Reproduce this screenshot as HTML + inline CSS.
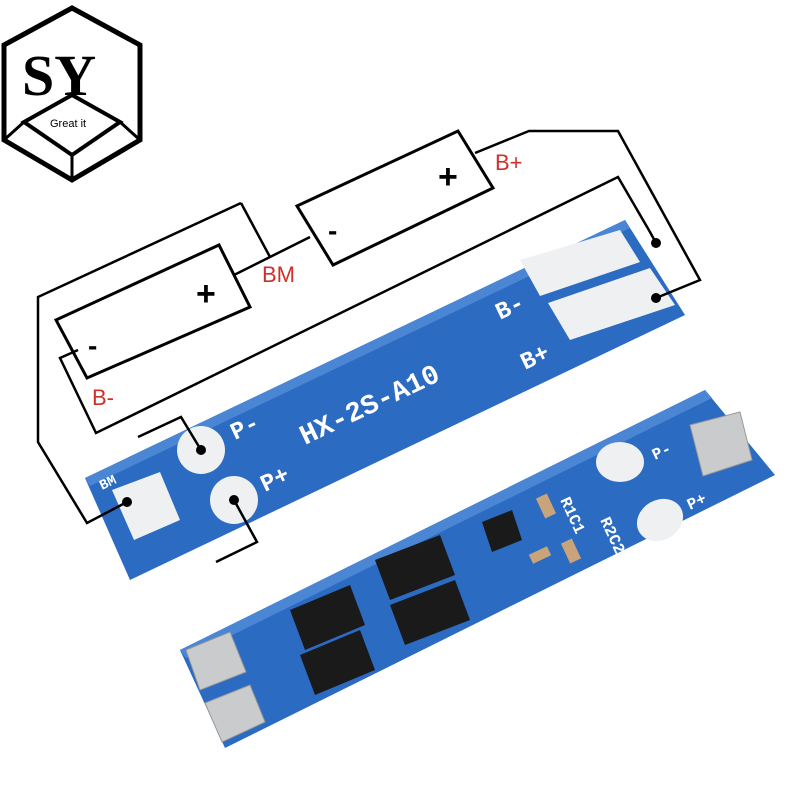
<!DOCTYPE html>
<html><head><meta charset="utf-8"><style>html,body{margin:0;padding:0;background:#fff}svg{display:block}</style></head><body>
<svg width="800" height="800" viewBox="0 0 800 800" xmlns="http://www.w3.org/2000/svg" font-family="Liberation Sans, sans-serif">
<rect width="800" height="800" fill="#fff"/>
<!-- logo -->
<g stroke="#000" fill="none">
<polygon points="72,8 140,45 140,140 72,180 4,140 4,45" stroke-width="5"/>
<polygon points="72,95 120,122 72,155 24,122" stroke-width="4"/>
<line x1="4" y1="140" x2="24" y2="122" stroke-width="3"/>
<line x1="140" y1="140" x2="120" y2="122" stroke-width="3"/>
<line x1="72" y1="180" x2="72" y2="155" stroke-width="3"/>
</g>
<text x="22" y="95" font-family="Liberation Serif, serif" font-size="58" font-weight="bold">SY</text>
<text x="50" y="127" font-size="11">Great it</text>
<!-- top board -->
<polygon points="85,478 625,220 685,315 130,580" fill="#2b6bc2"/>
<polygon points="85,478 625,220 630,228 90,486" fill="#4a86d4"/>
<g fill="#eef0f2">
<polygon points="520,260 620,230 640,262 540,296"/>
<polygon points="548,303 650,268 675,305 570,340"/>
<polygon points="112,490 160,472 180,520 134,540"/>
</g>
<circle cx="201" cy="450" r="24" fill="#eef0f2"/>
<circle cx="234" cy="500" r="24" fill="#eef0f2"/>
<g fill="#fff" font-size="24" font-family="Liberation Mono, monospace" font-weight="bold">
<text transform="translate(305,445) rotate(-25.5)" font-size="28">HX-2S-A10</text>
<text transform="translate(235,440) rotate(-25.5)">P-</text>
<text transform="translate(265,492) rotate(-25.5)">P+</text>
<text transform="translate(500,320) rotate(-25.5)">B-</text>
<text transform="translate(525,370) rotate(-25.5)">B+</text>
<text transform="translate(102,490) rotate(-25.5)" font-size="14">BM</text>
</g>
<!-- bottom board -->
<polygon points="180,650 705,390 775,475 225,748" fill="#2b6bc2"/>
<polygon points="180,650 705,390 712,398 186,658" fill="#4a86d4"/>
<g fill="#c9cbcd" stroke="#999">
<polygon points="186,650 230,632 246,672 200,690"/>
<polygon points="205,703 250,685 265,722 222,742"/>
<polygon points="690,425 740,412 752,460 703,476"/>
</g>
<ellipse cx="620" cy="462" rx="24" ry="20" fill="#eef0f2"/>
<ellipse cx="660" cy="520" rx="24" ry="20" fill="#eef0f2" transform="rotate(-30 660 520)"/>
<g fill="#1a1a1a">
<polygon points="290,610 350,585 365,625 305,650"/>
<polygon points="300,655 360,630 375,670 315,695"/>
<polygon points="375,560 440,535 455,575 390,600"/>
<polygon points="390,605 455,580 470,620 405,645"/>
<polygon points="482,522 512,510 522,540 492,552"/>
</g>
<g fill="#c9a37a">
<rect x="540" y="495" width="12" height="22" transform="rotate(-25 546 506)"/>
<rect x="565" y="540" width="12" height="22" transform="rotate(-25 571 551)"/>
<rect x="530" y="550" width="20" height="10" transform="rotate(-25 540 555)"/>
</g>
<g fill="#fff" font-size="16" font-family="Liberation Mono, monospace" font-weight="bold">
<text transform="translate(655,460) rotate(-25)">P-</text>
<text transform="translate(690,510) rotate(-25)">P+</text>
<text transform="translate(560,500) rotate(65)">R1C1</text>
<text transform="translate(600,520) rotate(65)">R2C2</text>
</g>
<!-- batteries -->
<g fill="#fff" stroke="#000" stroke-width="3">
<polygon points="297,206 458,131 493,188 333,265"/>
<polygon points="56,320 219,245 250,307 87,378"/>
</g>
<g font-size="34" font-weight="bold">
<text x="438" y="188">+</text>
<text x="196" y="305">+</text>
<text x="328" y="240" font-size="28">-</text>
<text x="88" y="355" font-size="28">-</text>
</g>
<!-- wires -->
<g fill="none" stroke="#000" stroke-width="2.5">
<polyline points="241,203 270,257"/>
<polyline points="241,203 38,297 38,442 87,523 127,502"/>
<polyline points="234,275 270,257 310,237"/>
<polyline points="475,153 529,131 618,131 700,280 656,298"/>
<polyline points="656,243 650,232 618,177 96,433 60,358 78,350"/>
<polyline points="138,437 181,417 201,450"/>
<polyline points="234,500 257,542 216,562"/>
</g>
<g fill="#000"><circle cx="656" cy="243" r="5"/><circle cx="656" cy="298" r="5"/><circle cx="201" cy="450" r="5"/><circle cx="234" cy="500" r="5"/><circle cx="127" cy="502" r="5"/></g>
<g fill="#d0302a" font-size="22">
<text x="495" y="170">B+</text>
<text x="262" y="282">BM</text>
<text x="92" y="405">B-</text>
</g>
</svg>
</body></html>
